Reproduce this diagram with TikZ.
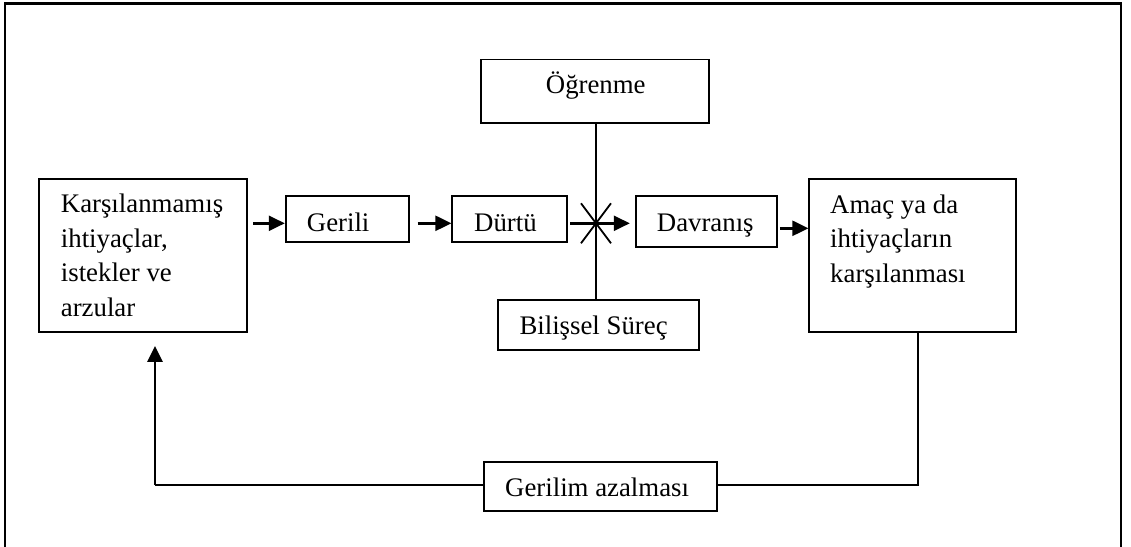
\documentclass[tikz,border=0pt]{standalone}
\usepackage{fontspec}
\setmainfont{Liberation Serif}
\usetikzlibrary{arrows.meta,calc}

\tikzset{
  box/.style={draw, line width=1.8pt, rectangle, inner sep=0pt},
  txt/.style={inner sep=0pt, anchor=base west, font=\fontsize{26.8}{34.5}\selectfont},
  link/.style={line width=1.8pt},
  arr/.style={line width=2.4pt, -{Triangle[length=16pt,width=15pt]}},
}

\begin{document}
\begin{tikzpicture}[x=1pt, y=-1pt]
  \useasboundingbox (0,0) rectangle (1131,546);

  % outer frame (open at the bottom)
  \draw[line width=2.2pt] (5,547) -- (5,3.5) -- (1121,3.5) -- (1121,547);

  % boxes
  \node[box, minimum width=207.4pt, minimum height=152.7pt] (K) at (143,255.35) {};
  \node[box, minimum width=123.6pt, minimum height=46.3pt]  (G) at (347.5,219.15) {};
  \node[box, minimum width=114.4pt, minimum height=46.3pt]  (D) at (509.5,219.15) {};
  \node[box, minimum width=228.3pt, minimum height=63.2pt]  (O) at (595.15,91.1) {};
  \node[box, minimum width=200.7pt, minimum height=50pt]    (B) at (598.65,325) {};
  \node[box, minimum width=140.7pt, minimum height=51.3pt]  (V) at (706.35,221.65) {};
  \node[box, minimum width=206.4pt, minimum height=152.7pt] (A) at (912.5,255.35) {};
  \node[box, minimum width=232.7pt, minimum height=49.3pt]  (R) at (600.35,486.35) {};

  % texts
  \node[txt] (Kt) at (60.7,212.7) {\parbox[t]{200pt}{\raggedright Karşılanmamış\\ihtiyaçlar,\\istekler ve\\arzular}};
  \node[txt] (At) at (830,213) {\parbox[t]{200pt}{\raggedright Amaç ya da\\ihtiyaçların\\karşılanması}};
  \node[txt] (Gt) at (306.7,231.7) {Gerili};
  \node[txt] (Dt) at (474,231.7) {Dürtü};
  \node[txt] (Vt) at (656.7,231.7) {Davranış};
  \node[txt] (Ot) at (545.7,93.3) {Öğrenme};
  \node[txt] (Bt) at (519.3,334.3) {Bilişsel Süreç};
  \node[txt] (Rt) at (505,496.7) {Gerilim azalması};

  % reference rows and bends
  \coordinate (row)  at (0,223.3);
  \coordinate (row2) at (0,228.3);
  \coordinate (X)    at (596,223.3);
  \coordinate (fbR)  at (918,485);
  \coordinate (fbL)  at (155,485);

  % main chain
  \draw[arr] ([xshift=5.6pt]K.east |- row) -- (G.west |- row);
  \draw[arr] ([xshift=7.4pt]G.east |- row) -- (D.west |- row);
  \draw[arr] ([xshift=2.6pt]D.east |- row) -- ([xshift=-5.3pt]V.west |- row);
  \draw[arr] ([xshift=2.3pt]V.east |- row2) -- (A.west |- row2);

  % learning / cognitive process axis with the crossing star
  \draw[link] (O.south -| X) -- (B.north -| X);
  \draw[link] ($(X)+(-15,-20)$) -- ($(X)+(15,20)$);
  \draw[link] ($(X)+(15,-20)$) -- ($(X)+(-15,20)$);

  % feedback loop
  \draw[link] (A.south -| fbR) -- (fbR) -- (R.east |- fbR);
  \draw[line width=2.4pt] (R.west |- fbL) -- (fbL);
  \draw[arr] (fbL) -- ([yshift=-13.3pt]K.south -| fbL);
\end{tikzpicture}
\end{document}
